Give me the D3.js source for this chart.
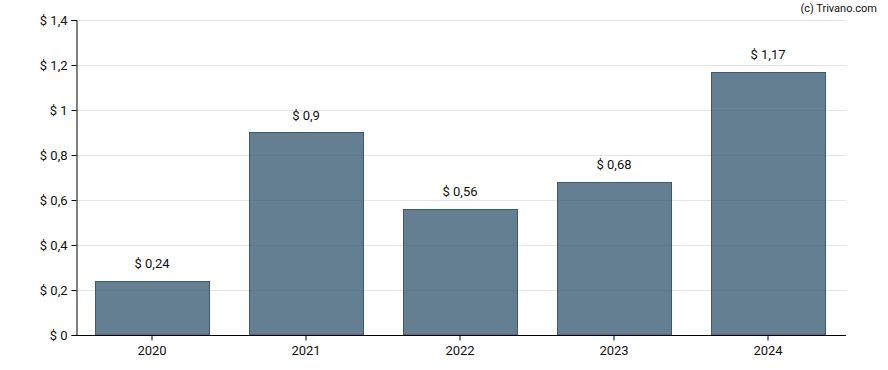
<!DOCTYPE html>
<html>
<head>
<meta charset="utf-8">
<script src="https://cdn.jsdelivr.net/npm/d3@7"></script>
<style>
  body { margin: 0; background: #ffffff; }
  text { font-family: Roboto, "Liberation Sans", sans-serif; }
</style>
</head>
<body>
<svg id="chart"></svg>
<script>
const width = 888, height = 370;
const margin = {top: 20, bottom: 35, left: 76, right: 42};

const years = ["2020", "2021", "2022", "2023", "2024"];
const values = [0.24, 0.9, 0.56, 0.68, 1.17];
const yTicks = [0, 0.2, 0.4, 0.6, 0.8, 1, 1.2, 1.4];

const fmt = v => "$ " + String(v).replace(".", ",");

const svg = d3.select("#chart")
    .attr("width", width)
    .attr("height", height)
    .style("background", "#ffffff");

const xScale = d3.scaleBand()
    .domain(years)
    .range([margin.left - 1, width - margin.right - 1])
    .paddingInner(0.26)
    .paddingOuter(0.13);

const yScale = d3.scaleLinear()
    .domain([0, 1.4])
    .range([height - margin.bottom, margin.top]);

// grid lines
svg.append("g")
    .selectAll("line")
    .data(yTicks.slice(1))
    .join("line")
    .attr("x1", margin.left)
    .attr("x2", width - margin.right)
    .attr("y1", d => Math.round(yScale(d)) + 0.5)
    .attr("y2", d => Math.round(yScale(d)) + 0.5)
    .attr("stroke", "#e6e6e6")
    .attr("stroke-width", 1);

// bars
svg.append("g")
    .selectAll("rect")
    .data(values)
    .join("rect")
    .attr("x", (d, i) => Math.round(xScale(years[i])) + 0.5)
    .attr("y", d => Math.round(yScale(d)) + 0.5)
    .attr("width", Math.round(xScale.bandwidth()))
    .attr("height", d => yScale(0) - Math.round(yScale(d)) - 0.5)
    .attr("fill", "rgba(48, 83, 109, 0.75)")
    .attr("stroke", "#3e5a70")
    .attr("stroke-width", 1);

// value labels
svg.append("g")
    .selectAll("text")
    .data(values)
    .join("text")
    .attr("x", (d, i) => xScale(years[i]) + xScale.bandwidth() / 2)
    .attr("y", d => yScale(d) - 13)
    .attr("text-anchor", "middle")
    .style("font-size", "13px")
    .style("fill", "#111")
    .text(d => fmt(d));

// axes
const xAxis = svg.append("g")
    .attr("transform", `translate(0,${height - margin.bottom + 0.5})`)
    .call(d3.axisBottom(xScale).tickSizeOuter(0).tickSize(5));

const yAxis = svg.append("g")
    .attr("transform", `translate(${margin.left + 0.5},0)`)
    .call(d3.axisLeft(yScale).tickValues(yTicks).tickFormat(fmt).tickSizeOuter(0).tickSize(5));

xAxis.select(".domain").attr("d", `M${margin.left},0H${width - margin.right}`);

[xAxis, yAxis].forEach(a => {
    a.select(".domain").attr("stroke", "#000");
    a.selectAll(".tick line").attr("stroke", "#000");
    a.selectAll(".tick text")
        .style("font-family", "Roboto, sans-serif")
        .style("font-size", "13px")
        .style("fill", "#111");
});
xAxis.selectAll(".tick text").attr("dy", "0.85em");
yAxis.selectAll(".tick text").attr("x", -9);

// watermark
svg.append("text")
    .attr("x", 877)
    .attr("y", 12)
    .attr("text-anchor", "end")
    .style("font-size", "11px")
    .style("fill", "#111")
    .text("(c) Trivano.com");
</script>
</body>
</html>
